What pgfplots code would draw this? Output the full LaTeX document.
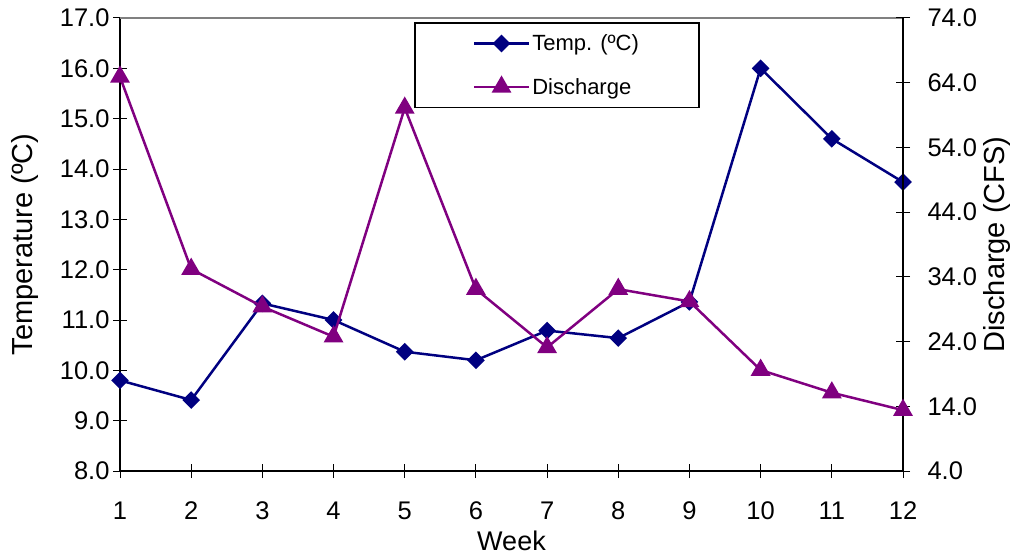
\documentclass[border=0pt]{standalone}
\usepackage{fontspec}
\setmainfont{Liberation Sans}
\usepackage{pgfplots}
\pgfplotsset{compat=1.18}
\definecolor{navyc}{RGB}{0,0,128}
\definecolor{purpc}{RGB}{128,0,128}
\begin{document}
\begin{tikzpicture}[font=\fontsize{25.5bp}{30bp}\selectfont]
\path[use as bounding box] (-120bp,-86bp) rectangle (897bp,471bp);
\pgfplotsset{
  common/.style={
    at={(0,0)}, anchor=south west, scale only axis,
    width=783bp, height=453bp,
    xmin=1, xmax=12,
    tick align=center, major tick length=14bp,
    every tick/.style={black, line width=1pt},
    /pgf/number format/assume math mode=true,
    x axis line style={-}, y axis line style={-},
    axis line style={line width=1.3pt},
  },
}
\begin{axis}[common,
  ymin=8, ymax=17, ytick={8,...,17}, xtick={1,...,12},
  axis x line*=bottom, axis y line*=left,
  xticklabel style={yshift=-20bp},
  yticklabel style={/pgf/number format/fixed,/pgf/number format/fixed zerofill,/pgf/number format/precision=1},
  every axis x label/.style={at={(axis description cs:0.5,-0.155)}, anchor=center, font=\fontsize{27bp}{32bp}\selectfont},
  every axis y label/.style={at={(axis description cs:-0.121,0.5)}, anchor=center, rotate=90, font=\fontsize{29bp}{34bp}\selectfont},
  xlabel={Week}, ylabel={Temperature (ºC)},
]
\addplot[navyc, line width=2.5bp, mark=square*, mark size=5bp, mark options={rotate=45, solid}]
  coordinates {(1,9.8) (2,9.41) (3,11.33) (4,11.0) (5,10.37) (6,10.2) (7,10.79) (8,10.64) (9,11.36) (10,16.0) (11,14.6) (12,13.74)};
\draw[gray, line width=1.3pt] (rel axis cs:0,1) -- (rel axis cs:1,1);
\end{axis}
\begin{axis}[common,
  ymin=4, ymax=74, ytick={4,14,...,74},
  axis x line=none, axis y line*=right,
  yticklabel style={xshift=14bp, /pgf/number format/fixed,/pgf/number format/fixed zerofill,/pgf/number format/precision=1},
  every axis y label/.style={at={(axis description cs:1.12,0.5)}, anchor=center, rotate=90, font=\fontsize{29bp}{34bp}\selectfont},
  ylabel={Discharge (CFS)},
  legend style={at={(axis description cs:0.3755,0.991)}, anchor=north west,
    draw=black, line width=1.5pt, inner xsep=58bp, inner ysep=10bp,
    row sep=22bp, font=\fontsize{22bp}{26bp}\selectfont,
    cells={anchor=west}},
  legend image code/.code={\draw[mark repeat=2, mark phase=2] plot coordinates {(0bp,0bp) (27.5bp,0bp) (55bp,0bp)};},
]
\addlegendimage{navyc, line width=2.5bp, mark=square*, mark size=5bp, mark options={rotate=45, solid}}
\addlegendentry{Temp. (ºC)}
\addplot[purpc, line width=2.5bp, mark=triangle*, mark size=9bp, mark options={solid}]
  coordinates {(1,64.9) (2,35.2) (3,29.4) (4,24.75) (5,60.1) (6,32.1) (7,23.1) (8,32.1) (9,30.2) (10,19.6) (11,16.1) (12,13.4)};
\addlegendentry{Discharge}
\end{axis}
\end{tikzpicture}
\end{document}
